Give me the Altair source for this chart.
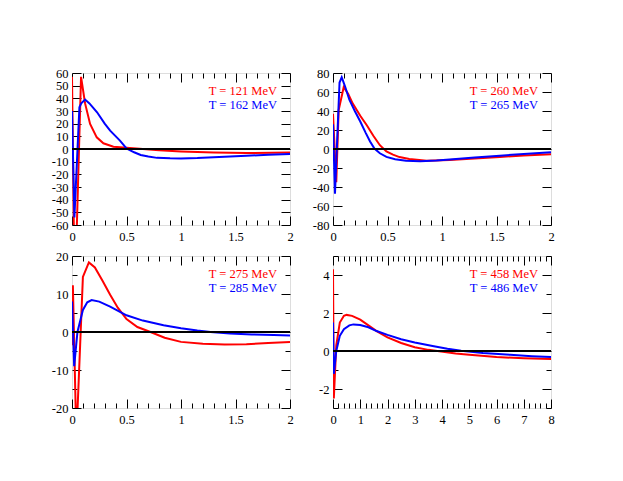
import altair as alt
import pandas as pd

# ---------------- data ----------------
# Panel 1 (T = 121 MeV red, T = 162 MeV blue)
p1_red_x = [0.0, 0.025, 0.083, 0.12, 0.166, 0.227, 0.288, 0.38, 0.53, 0.65, 0.8, 1.0, 1.3, 1.6, 2.0]
p1_red_y = [57, -120, 57, 36, 19.8, 9.2, 4.5, 1.8, 0.8, 0.0, -1.0, -1.9, -2.8, -3.2, -2.7]
p1_blue_x = [0.0, 0.022, 0.068, 0.085, 0.12, 0.16, 0.23, 0.3, 0.35, 0.44, 0.5, 0.57, 0.63, 0.7, 0.78, 0.9, 1.0, 1.15, 1.3, 1.45, 1.6, 1.8, 2.0]
p1_blue_y = [30, -54, 33, 36, 39, 36, 29, 20, 14.5, 6.6, 0.5, -2.6, -4.7, -6.0, -7.0, -7.4, -7.5, -7.2, -6.6, -6.0, -5.3, -4.6, -4.0]

# Panel 2 (T = 260 MeV red, T = 265 MeV blue)
p2_red_x = [0.0, 0.03, 0.052, 0.098, 0.14, 0.18, 0.25, 0.31, 0.37, 0.43, 0.49, 0.55, 0.61, 0.7, 0.86, 1.07, 1.3, 1.53, 1.75, 2.0]
p2_red_y = [37, -35, 41, 65, 58, 48, 35, 25, 14, 4, -2.5, -6, -8.5, -10.5, -12.3, -11.5, -10, -8.3, -6.8, -5.5]
p2_blue_x = [0.0, 0.018, 0.06, 0.08, 0.11, 0.15, 0.2, 0.25, 0.3, 0.34, 0.38, 0.43, 0.49, 0.57, 0.67, 0.8, 0.95, 1.1, 1.3, 1.53, 1.75, 2.0]
p2_blue_y = [26, -47, 70, 75.5, 66, 52, 40, 29, 17, 8, 0.5, -4.5, -8.3, -10.8, -12.3, -12.8, -12, -10.8, -9, -7, -5.3, -3.5]

# Panel 3 (T = 275 MeV red, T = 285 MeV blue)
p3_red_x = [0.0, 0.008, 0.04, 0.1, 0.155, 0.21, 0.28, 0.35, 0.42, 0.5, 0.6, 0.72, 0.85, 1.0, 1.2, 1.4, 1.6, 1.8, 2.0]
p3_red_y = [-3.5, 12.3, -28, 14.5, 18.3, 17.0, 13.5, 9.8, 6.4, 3.4, 1.3, 0.0, -1.5, -2.6, -3.1, -3.3, -3.2, -2.9, -2.6]
p3_blue_x = [0.0, 0.02, 0.05, 0.1, 0.14, 0.18, 0.25, 0.35, 0.5, 0.65, 0.84, 1.0, 1.15, 1.27, 1.45, 1.65, 1.85, 2.0]
p3_blue_y = [8, -9, 0, 5.8, 7.8, 8.4, 8.0, 6.7, 4.4, 3.0, 1.8, 1.0, 0.4, 0.0, -0.4, -0.65, -0.8, -0.9]

# Panel 4 (T = 458 MeV red, T = 486 MeV blue)
p4_red_x = [0.0, 0.03, 0.12, 0.25, 0.4, 0.5, 0.7, 1.0, 1.3, 1.6, 2.0, 2.5, 3.0, 3.5, 3.9, 4.5, 5.0, 6.0, 7.0, 8.0]
p4_red_y = [4.3, -2.5, 0.3, 1.5, 1.85, 1.9, 1.85, 1.65, 1.35, 1.05, 0.72, 0.42, 0.2, 0.06, -0.01, -0.13, -0.2, -0.32, -0.38, -0.42]
p4_blue_x = [0.0, 0.03, 0.12, 0.25, 0.4, 0.6, 0.75, 1.0, 1.3, 1.6, 2.0, 2.5, 3.0, 3.7, 4.2, 4.7, 5.5, 6.5, 7.3, 8.0]
p4_blue_y = [1.5, -1.2, 0.0, 0.8, 1.15, 1.35, 1.4, 1.37, 1.25, 1.05, 0.85, 0.62, 0.45, 0.25, 0.12, 0.01, -0.1, -0.2, -0.27, -0.32]

# legend labels
p1_labels = ["T = 121 MeV", "T = 162 MeV"]
p2_labels = ["T = 260 MeV", "T = 265 MeV"]
p3_labels = ["T = 275 MeV", "T = 285 MeV"]
p4_labels = ["T = 458 MeV", "T = 486 MeV"]

# axis domains and ticks
x_dom_a = [0, 2]
x_major_a = [0, 0.5, 1, 1.5, 2]
x_minor_a = [0.1, 0.2, 0.3, 0.4, 0.6, 0.7, 0.8, 0.9, 1.1, 1.2, 1.3, 1.4, 1.6, 1.7, 1.8, 1.9]
x_dom_b = [0, 8]
x_major_b = [0, 1, 2, 3, 4, 5, 6, 7, 8]
x_minor_b = [0.2, 0.4, 0.6, 0.8, 1.2, 1.4, 1.6, 1.8, 2.2, 2.4, 2.6, 2.8, 3.2, 3.4, 3.6, 3.8,
             4.2, 4.4, 4.6, 4.8, 5.2, 5.4, 5.6, 5.8, 6.2, 6.4, 6.6, 6.8, 7.2, 7.4, 7.6, 7.8]

y1_dom = [-60, 60]
y1_major = [-60, -50, -40, -30, -20, -10, 0, 10, 20, 30, 40, 50, 60]
y2_dom = [-80, 80]
y2_major = [-80, -60, -40, -20, 0, 20, 40, 60, 80]
y3_dom = [-20, 20]
y3_major = [-20, -10, 0, 10, 20]
y3_minor = [-15, -5, 5, 15]
y4_dom = [-3, 5]
y4_major = [-2, 0, 2, 4]
y4_minor = [-3, -1, 1, 3, 5]

RED = "#ff0000"
BLUE = "#0000ff"
FONT = "Times New Roman, Liberation Serif, serif"
W, H = 218, 152
MAJ, MIN = 9, 5


def axis(orient, values, major=True, labels=False):
    if values is None:
        return None
    size = MAJ if major else MIN
    kw = dict(orient=orient, values=values, tickSize=size, offset=-size,
              domain=False, grid=False, title=None, ticks=True,
              tickColor="black", tickWidth=1, labelFlush=False, labelOverlap=False)
    if labels:
        kw.update(labels=True, labelExpr="toString(datum.value)",
                  labelFont=FONT, labelFontSize=12.5, labelColor="black")
        if orient in ("left", "right"):
            kw.update(labelPadding=4, minExtent=38, maxExtent=38)
        else:
            kw.update(labelPadding=5, minExtent=28, maxExtent=28)
    else:
        kw.update(labels=False, minExtent=0, maxExtent=0)
    return alt.Axis(**kw)


def panel(rx, ry, bx, by, labels, xdom, xmaj, xmin, ydom, ymaj, ymin):
    xs = alt.Scale(domain=xdom, nice=False, zero=False)
    ys = alt.Scale(domain=ydom, nice=False, zero=False)
    red_df = pd.DataFrame({"x": rx, "y": ry})
    blue_df = pd.DataFrame({"x": bx, "y": by})
    one = pd.DataFrame({"a": [0]})

    red = alt.Chart(red_df).mark_line(color=RED, strokeWidth=2, clip=True).encode(
        x=alt.X("x:Q", scale=xs, axis=axis("bottom", xmaj, True, True)),
        y=alt.Y("y:Q", scale=ys, axis=axis("left", ymaj, True, True)),
        order="x:Q",
    )
    blue = alt.Chart(blue_df).mark_line(color=BLUE, strokeWidth=2, clip=True).encode(
        x=alt.X("x:Q", scale=xs, axis=axis("top", xmaj, True, False)),
        y=alt.Y("y:Q", scale=ys, axis=axis("right", ymaj, True, False)),
        order="x:Q",
    )
    zx = axis("bottom", xmin, False, False)
    zy = axis("left", ymin, False, False)
    zero = alt.Chart(one).mark_rule(color="black", strokeWidth=2).encode(
        x=alt.X(datum=xdom[0], scale=xs, axis=zx),
        x2=alt.X2(datum=xdom[1]),
        y=alt.Y(datum=0, scale=ys, axis=zy),
    )
    tx = axis("top", xmin, False, False)
    ty = axis("right", ymin, False, False)
    lab_red = alt.Chart(pd.DataFrame({"t": [labels[0]]})).mark_text(
        align="right", baseline="alphabetic", dx=-13, dy=22, font=FONT, fontSize=12.5, color=RED
    ).encode(
        x=alt.X(datum=xdom[1], scale=xs, axis=tx),
        y=alt.Y(datum=ydom[1], scale=ys, axis=ty),
        text="t:N",
    )
    lab_blue = alt.Chart(pd.DataFrame({"t": [labels[1]]})).mark_text(
        align="right", baseline="alphabetic", dx=-13, dy=36, font=FONT, fontSize=12.5, color=BLUE
    ).encode(
        x=alt.X(datum=xdom[1], scale=xs, axis=None),
        y=alt.Y(datum=ydom[1], scale=ys, axis=None),
        text="t:N",
    )
    return alt.layer(red, blue, zero, lab_red, lab_blue).resolve_axis(
        x="independent", y="independent"
    ).properties(width=W, height=H)


c1 = panel(p1_red_x, p1_red_y, p1_blue_x, p1_blue_y, p1_labels, x_dom_a, x_major_a, x_minor_a, y1_dom, y1_major, None)
c2 = panel(p2_red_x, p2_red_y, p2_blue_x, p2_blue_y, p2_labels, x_dom_a, x_major_a, x_minor_a, y2_dom, y2_major, None)
c3 = panel(p3_red_x, p3_red_y, p3_blue_x, p3_blue_y, p3_labels, x_dom_a, x_major_a, x_minor_a, y3_dom, y3_major, y3_minor)
c4 = panel(p4_red_x, p4_red_y, p4_blue_x, p4_blue_y, p4_labels, x_dom_b, x_major_b, x_minor_b, y4_dom, y4_major, y4_minor)

row1 = alt.hconcat(c1, c2, spacing=9)
row2 = alt.hconcat(c3, c4, spacing=9)
chart = alt.vconcat(row1, row2, spacing=4).properties(
    padding={"left": 34, "top": 58, "right": 10, "bottom": 10}
).configure_view(stroke="black", strokeWidth=1).configure(background="white")

chart.save("out.html", embed_options={"renderer": "svg", "actions": False})
